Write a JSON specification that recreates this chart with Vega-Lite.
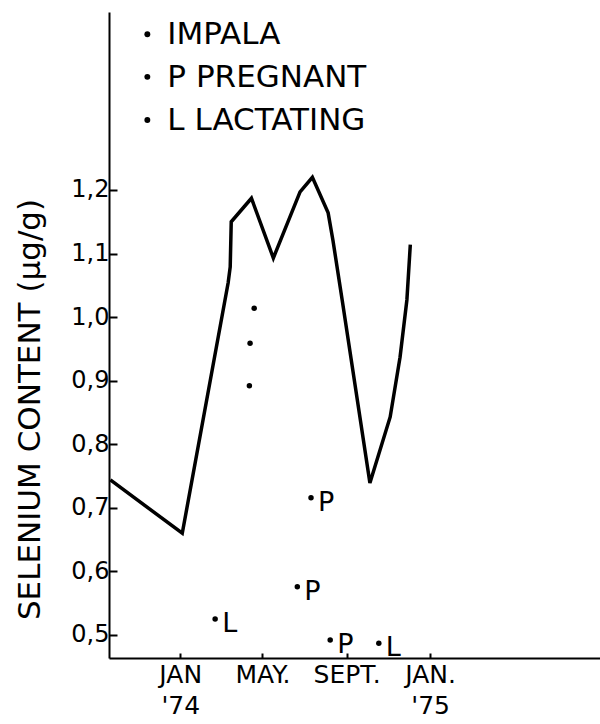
{
  "$schema": "https://vega.github.io/schema/vega-lite/v6.json",
  "width": 491,
  "height": 646,
  "autosize": {"type": "none"},
  "padding": {"left": 109, "top": 12, "right": 0, "bottom": 66},
  "background": "white",
  "config": {"view": {"stroke": null}, "font": "DejaVu Sans"},
  "datasets": {
    "line": [
      {"day": -102, "value": 0.744},
      {"day": 3, "value": 0.660},
      {"day": 70, "value": 1.054},
      {"day": 73, "value": 1.079},
      {"day": 74.5, "value": 1.150},
      {"day": 104, "value": 1.187},
      {"day": 136, "value": 1.093},
      {"day": 175, "value": 1.197},
      {"day": 193, "value": 1.220},
      {"day": 216, "value": 1.164},
      {"day": 223, "value": 1.121},
      {"day": 236.5, "value": 1.027},
      {"day": 277, "value": 0.739},
      {"day": 306.6, "value": 0.843},
      {"day": 321, "value": 0.937},
      {"day": 331, "value": 1.027},
      {"day": 336, "value": 1.114}
    ],
    "points": [
      {"day": 108, "value": 1.014, "tag": ""},
      {"day": 102, "value": 0.959, "tag": ""},
      {"day": 101, "value": 0.892, "tag": ""},
      {"day": 51, "value": 0.525, "tag": "L"},
      {"day": 171, "value": 0.576, "tag": "P"},
      {"day": 191, "value": 0.716, "tag": "P"},
      {"day": 219, "value": 0.492, "tag": "P"},
      {"day": 290, "value": 0.487, "tag": "L"}
    ],
    "legend": [
      {"day": -48, "value": 1.445, "text": "IMPALA"},
      {"day": -48, "value": 1.378, "text": "P PREGNANT"},
      {"day": -48, "value": 1.310, "text": "L LACTATING"}
    ]
  },
  "layer": [
    {
      "data": {"name": "line"},
      "mark": {"type": "line", "color": "black", "strokeWidth": 3.5},
      "encoding": {
        "x": {
          "field": "day", "type": "quantitative",
          "scale": {"domain": [-104, 613], "nice": false, "zero": false},
          "axis": {
            "values": [0, 120, 243, 365],
            "labelExpr": "datum.value == 0 ? ['JAN', \"'74\"] : datum.value == 120 ? ['MAY.', ''] : datum.value == 243 ? ['SEPT.', ''] : ['JAN.', \"'75\"]",
            "title": null,
            "grid": false,
            "tickSize": -5,
            "tickWidth": 2,
            "tickColor": "black",
            "domainColor": "black",
            "domainWidth": 2,
            "labelFontSize": 25,
            "labelColor": "black",
            "labelPadding": 9,
            "labelLineHeight": 31,
            "labelAngle": 0,
            "labelAlign": "center",
            "labelOverlap": false,
            "labelFlush": false,
            "labelBound": false
          }
        },
        "y": {
          "field": "value", "type": "quantitative",
          "scale": {"domain": [0.4638, 1.48], "nice": false, "zero": false},
          "axis": {
            "values": [0.5, 0.6, 0.7, 0.8, 0.9, 1.0, 1.1, 1.2],
            "labelExpr": "replace(format(datum.value, '.1f'), '.', ',')",
            "grid": false,
            "tickSize": -8,
            "tickWidth": 2,
            "tickColor": "black",
            "domainColor": "black",
            "domainWidth": 2,
            "labelFontSize": 24,
            "labelColor": "black",
            "labelPadding": 8,
            "labelOverlap": false,
            "labelFlush": false,
            "title": "SELENIUM CONTENT (µg/g)",
            "titleFontSize": 31,
            "titleFontWeight": "normal",
            "titleColor": "black",
            "titleAngle": -90,
            "titleX": -79,
            "titleY": 397,
            "titleAlign": "center",
            "titleBaseline": "middle"
          }
        }
      }
    },
    {
      "data": {"name": "points"},
      "mark": {"type": "circle", "color": "black", "opacity": 1, "size": 30},
      "encoding": {
        "x": {"field": "day", "type": "quantitative"},
        "y": {"field": "value", "type": "quantitative"}
      }
    },
    {
      "data": {"name": "points"},
      "mark": {"type": "text", "color": "black", "fontSize": 27, "align": "left", "baseline": "middle", "dx": 7, "dy": 5},
      "encoding": {
        "x": {"field": "day", "type": "quantitative"},
        "y": {"field": "value", "type": "quantitative"},
        "text": {"field": "tag"}
      }
    },
    {
      "data": {"name": "legend"},
      "mark": {"type": "circle", "color": "black", "opacity": 1, "size": 35},
      "encoding": {
        "x": {"field": "day", "type": "quantitative"},
        "y": {"field": "value", "type": "quantitative"}
      }
    },
    {
      "data": {"name": "legend"},
      "mark": {"type": "text", "color": "black", "fontSize": 31, "align": "left", "baseline": "middle", "dx": 20, "dy": 1},
      "encoding": {
        "x": {"field": "day", "type": "quantitative"},
        "y": {"field": "value", "type": "quantitative"},
        "text": {"field": "text"}
      }
    }
  ]
}
